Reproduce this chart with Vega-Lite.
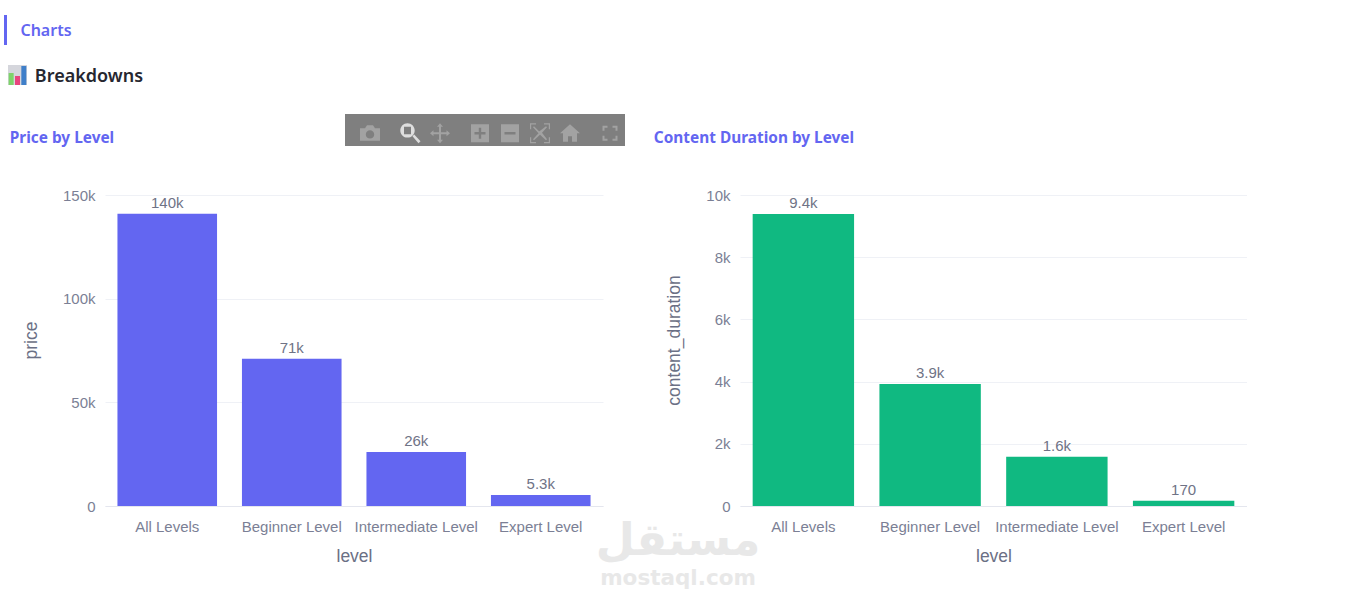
{
  "$schema": "https://vega.github.io/schema/vega-lite/v6.json",
  "background": "white",
  "padding": {"left": 4, "top": 15, "right": 0, "bottom": 0},
  "spacing": 28,
  "datasets": {
    "price": [
      {"level": "All Levels", "price": 141000},
      {"level": "Beginner Level", "price": 71000},
      {"level": "Intermediate Level", "price": 26000},
      {"level": "Expert Level", "price": 5300}
    ],
    "duration": [
      {"level": "All Levels", "content_duration": 9390},
      {"level": "Beginner Level", "content_duration": 3920},
      {"level": "Intermediate Level", "content_duration": 1580},
      {"level": "Expert Level", "content_duration": 170}
    ],
    "emoji": [
      {"part": "a", "height": 12, "colour": "green"},
      {"part": "b", "height": 9, "colour": "pink"},
      {"part": "c", "height": 19, "colour": "blue"}
    ],
    "toolbar": [
      {"icon": "camera"},
      {"icon": "zoom"},
      {"icon": "pan"},
      {"icon": "plus"},
      {"icon": "minus"},
      {"icon": "autoscale"},
      {"icon": "home"},
      {"icon": "fullscreen"}
    ],
    "watermark": [
      {"line": "ar", "label": "مستقل"},
      {"line": "en", "label": "mostaql.com"}
    ],
    "blank": [{"label": ""}]
  },
  "vconcat": [
    {
      "spacing": 20,
      "vconcat": [
        {
          "spacing": 13,
          "hconcat": [
            {
              "width": 3,
              "height": 30,
              "view": {"fill": "#6366f1", "stroke": null},
              "data": {"name": "blank"},
              "mark": "text",
              "encoding": {"text": {"field": "label"}}
            },
            {
              "width": 52,
              "height": 30,
              "view": {"stroke": null},
              "data": {"values": [{"label": "Charts"}]},
              "mark": {"type": "text", "font": "Noto Sans", "fontSize": 16, "fontWeight": 600, "color": "#6366f1", "dy": 1},
              "encoding": {"text": {"field": "label"}}
            }
          ]
        },
        {
          "spacing": 3,
          "hconcat": [
            {
              "width": 1,
              "height": 20,
              "view": {"stroke": null},
              "data": {"name": "blank"},
              "mark": "text",
              "encoding": {"text": {"field": "label"}}
            },
            {
              "width": 19,
              "height": 20,
              "view": {"fill": "#d5d6dc", "stroke": null},
              "data": {"name": "emoji"},
              "mark": {"type": "bar", "width": 5},
              "encoding": {
                "x": {"field": "part", "type": "nominal", "axis": null},
                "y": {"field": "height", "type": "quantitative", "axis": null, "scale": {"domain": [0, 20]}},
                "color": {
                  "field": "colour",
                  "type": "nominal",
                  "legend": null,
                  "scale": {"domain": ["green", "pink", "blue"], "range": ["#7ed36a", "#e8447e", "#3f7fc9"]}
                }
              }
            },
            {
              "width": 118,
              "height": 20,
              "view": {"stroke": null},
              "data": {"values": [{"label": "Breakdowns"}]},
              "mark": {"type": "text", "font": "Noto Sans", "fontSize": 18, "fontWeight": 600, "color": "#262730", "dy": 2},
              "encoding": {"text": {"field": "label"}}
            }
          ]
        }
      ]
    },
    {
      "spacing": 41,
      "vconcat": [
        {
          "spacing": 28,
          "hconcat": [
            {
              "spacing": 225,
              "hconcat": [
                {
                  "width": 116,
                  "height": 32,
                  "view": {"stroke": null},
                  "data": {"values": [{"label": "Price by Level"}]},
                  "mark": {"type": "text", "font": "Noto Sans", "fontSize": 15.4, "fontWeight": 700, "color": "#6366f1", "dy": 8},
                  "encoding": {"text": {"field": "label"}}
                },
                {
                  "width": 280,
                  "height": 32,
                  "view": {"fill": "#7f7f7f", "stroke": null},
                  "data": {"name": "toolbar"},
                  "mark": {"type": "point", "filled": true, "opacity": 1, "size": 400, "strokeWidth": 0},
                  "encoding": {
                    "x": {
                      "field": "icon",
                      "type": "nominal",
                      "axis": null,
                      "scale": {
                        "type": "point",
                        "padding": 0,
                        "range": [25, 265],
                        "domain": ["camera", "g1", "g2", "g3", "zoom", "g4", "g5", "pan", "g6", "g7", "g8", "plus", "g9", "g10", "minus", "g11", "g12", "autoscale", "g13", "g14", "home", "g15", "g16", "g17", "fullscreen"]
                      }
                    },
                    "y": {
                      "datum": "row",
                      "type": "nominal",
                      "axis": null,
                      "scale": {"type": "point", "padding": 0, "domain": ["a", "b", "c", "row", "d", "e"]}
                    },
                    "shape": {
                      "field": "icon",
                      "type": "nominal",
                      "legend": null,
                      "scale": {
                        "domain": ["camera", "zoom", "pan", "plus", "minus", "autoscale", "home", "fullscreen"],
                        "range": [
                          "M-1,-0.5 L-0.5,-0.5 L-0.3,-0.8 L0.3,-0.8 L0.5,-0.5 L1,-0.5 L1,0.75 L-1,0.75 Z M0,-0.3 A0.42,0.42 0 0 0 0,0.54 A0.42,0.42 0 0 0 0,-0.3 Z",
                          "M-0.25,-1 A0.72,0.72 0 1 1 -0.25,0.44 A0.72,0.72 0 1 1 -0.25,-1 Z M-0.6,-0.65 L-0.6,0.1 L0.1,0.1 L0.1,-0.65 Z M0.25,0.3 L0.42,0.12 L1.05,0.8 L0.85,1 Z",
                          "M0,-1 L0.3,-0.65 L0.1,-0.65 L0.1,-0.1 L0.65,-0.1 L0.65,-0.3 L1,0 L0.65,0.3 L0.65,0.1 L0.1,0.1 L0.1,0.65 L0.3,0.65 L0,1 L-0.3,0.65 L-0.1,0.65 L-0.1,0.1 L-0.65,0.1 L-0.65,0.3 L-1,0 L-0.65,-0.3 L-0.65,-0.1 L-0.1,-0.1 L-0.1,-0.65 L-0.3,-0.65 Z",
                          "M-0.9,-0.9 L0.9,-0.9 L0.9,0.9 L-0.9,0.9 Z M-0.12,-0.55 L-0.12,-0.12 L-0.55,-0.12 L-0.55,0.12 L-0.12,0.12 L-0.12,0.55 L0.12,0.55 L0.12,0.12 L0.55,0.12 L0.55,-0.12 L0.12,-0.12 L0.12,-0.55 Z",
                          "M-0.9,-0.9 L0.9,-0.9 L0.9,0.9 L-0.9,0.9 Z M-0.55,-0.12 L-0.55,0.12 L0.55,0.12 L0.55,-0.12 Z",
                          "M-1,-1 L-0.4,-1 L-0.4,-0.88 L-0.88,-0.88 L-0.88,-0.4 L-1,-0.4 Z M0.4,-1 L1,-1 L1,-0.4 L0.88,-0.4 L0.88,-0.88 L0.4,-0.88 Z M1,0.4 L1,1 L0.4,1 L0.4,0.88 L0.88,0.88 L0.88,0.4 Z M-0.4,1 L-1,1 L-1,0.4 L-0.88,0.4 L-0.88,0.88 L-0.4,0.88 Z M-0.6,-0.7 L-0.1,-0.2 L-0.05,-0.2 L0.6,-0.7 L0.7,-0.6 L0.2,-0.05 L0.7,0.6 L0.6,0.7 L0,0.15 L-0.6,0.7 L-0.7,0.6 L-0.15,0 L-0.7,-0.6 Z",
                          "M0,-0.9 L1,0 L0.7,0 L0.7,0.85 L0.2,0.85 L0.2,0.3 L-0.2,0.3 L-0.2,0.85 L-0.7,0.85 L-0.7,0 L-1,0 Z",
                          "M-0.75,-0.75 L-0.25,-0.75 L-0.25,-0.55 L-0.55,-0.55 L-0.55,-0.25 L-0.75,-0.25 Z M0.25,-0.75 L0.75,-0.75 L0.75,-0.25 L0.55,-0.25 L0.55,-0.55 L0.25,-0.55 Z M0.75,0.25 L0.75,0.75 L0.25,0.75 L0.25,0.55 L0.55,0.55 L0.55,0.25 Z M-0.25,0.75 L-0.75,0.75 L-0.75,0.25 L-0.55,0.25 L-0.55,0.55 L-0.25,0.55 Z"
                        ]
                      }
                    },
                    "color": {
                      "condition": {"test": "datum.icon == 'zoom'", "value": "#dedede"},
                      "value": "#a2a2a2"
                    }
                  }
                }
              ]
            },
            {
              "width": 200,
              "height": 32,
              "view": {"stroke": null},
              "data": {"values": [{"label": "Content Duration by Level"}]},
              "mark": {"type": "text", "font": "Noto Sans", "fontSize": 15.4, "fontWeight": 700, "color": "#6366f1", "dy": 8},
              "encoding": {"text": {"field": "label"}}
            }
          ]
        },
        {
          "bounds": "flush",
          "spacing": 331,
          "vconcat": [
            {
              "spacing": 61,
              "hconcat": [
                {
                  "spacing": 17,
                  "hconcat": [
                    {
                      "width": 1,
                      "height": 311,
                      "view": {"stroke": null},
                      "data": {"name": "blank"},
                      "mark": "text",
                      "encoding": {"text": {"field": "label"}}
                    },
                    {
                      "width": 498,
                      "height": 311,
                      "view": {"stroke": null},
                      "data": {"name": "price"},
                      "encoding": {
                        "x": {
                          "field": "level",
                          "type": "nominal",
                          "sort": null,
                          "scale": {"paddingInner": 0.2, "paddingOuter": 0.1},
                          "axis": {
                            "title": "level",
                            "labelAngle": 0,
                            "labelLimit": 200,
                            "labelOverlap": false,
                            "labelPadding": 13,
                            "labelFont": "Liberation Sans",
                            "labelFontSize": 15,
                            "labelColor": "#7b7f95",
                            "ticks": false,
                            "domainColor": "#e4e6ee",
                            "titleFont": "Liberation Sans",
                            "titleFontSize": 17.5,
                            "titleFontWeight": "normal",
                            "titleColor": "#6b7085",
                            "titlePadding": 13
                          }
                        }
                      },
                      "layer": [
                        {
                          "mark": {"type": "bar", "color": "#6366f1"},
                          "encoding": {
                            "y": {
                              "field": "price",
                              "type": "quantitative",
                              "scale": {"domain": [0, 150000], "nice": false},
                              "axis": {
                                "title": "price",
                                "values": [0, 50000, 100000, 150000],
                                "labelExpr": "datum.value == 0 ? '0' : format(datum.value, '~s')",
                                "ticks": false,
                                "domain": false,
                                "labelPadding": 10,
                                "labelFont": "Liberation Sans",
                                "labelFontSize": 15,
                                "labelColor": "#7b7f95",
                                "gridColor": "#eff1f6",
                                "titleFont": "Liberation Sans",
                                "titleFontSize": 17.5,
                                "titleFontWeight": "normal",
                                "titleColor": "#6b7085",
                                "titleX": -65,
                                "titleY": 145
                              }
                            }
                          }
                        },
                        {
                          "mark": {"type": "text", "baseline": "bottom", "dy": -3, "font": "Liberation Sans", "fontSize": 15, "color": "#6f7386"},
                          "encoding": {
                            "y": {"field": "price", "type": "quantitative"},
                            "text": {"field": "price", "type": "quantitative", "format": ".2~s"}
                          }
                        }
                      ]
                    }
                  ]
                },
                {
                  "width": 507,
                  "height": 311,
                  "view": {"stroke": null},
                  "data": {"name": "duration"},
                  "encoding": {
                    "x": {
                      "field": "level",
                      "type": "nominal",
                      "sort": null,
                      "scale": {"paddingInner": 0.2, "paddingOuter": 0.1},
                      "axis": {
                        "title": "level",
                        "labelAngle": 0,
                        "labelLimit": 200,
                        "labelOverlap": false,
                        "labelPadding": 13,
                        "labelFont": "Liberation Sans",
                        "labelFontSize": 15,
                        "labelColor": "#7b7f95",
                        "ticks": false,
                        "domainColor": "#e4e6ee",
                        "titleFont": "Liberation Sans",
                        "titleFontSize": 17.5,
                        "titleFontWeight": "normal",
                        "titleColor": "#6b7085",
                        "titlePadding": 13
                      }
                    }
                  },
                  "layer": [
                    {
                      "mark": {"type": "bar", "color": "#10b981"},
                      "encoding": {
                        "y": {
                          "field": "content_duration",
                          "type": "quantitative",
                          "scale": {"domain": [0, 10000], "nice": false},
                          "axis": {
                            "title": "content_duration",
                            "values": [0, 2000, 4000, 6000, 8000, 10000],
                            "labelExpr": "datum.value == 0 ? '0' : format(datum.value, '~s')",
                            "ticks": false,
                            "domain": false,
                            "labelPadding": 10,
                            "labelFont": "Liberation Sans",
                            "labelFontSize": 15,
                            "labelColor": "#7b7f95",
                            "gridColor": "#eff1f6",
                            "titleFont": "Liberation Sans",
                            "titleFontSize": 17.5,
                            "titleFontWeight": "normal",
                            "titleColor": "#6b7085",
                            "titleX": -57,
                            "titleY": 145
                          }
                        }
                      }
                    },
                    {
                      "mark": {"type": "text", "baseline": "bottom", "dy": -3, "font": "Liberation Sans", "fontSize": 15, "color": "#6f7386"},
                      "encoding": {
                        "y": {"field": "content_duration", "type": "quantitative"},
                        "text": {"field": "content_duration", "type": "quantitative", "format": ".2~s"}
                      }
                    }
                  ]
                }
              ]
            },
            {
              "spacing": 590,
              "hconcat": [
                {
                  "width": 1,
                  "height": 70,
                  "view": {"stroke": null},
                  "data": {"name": "blank"},
                  "mark": "text",
                  "encoding": {"text": {"field": "label"}}
                },
                {
                  "width": 160,
                  "height": 70,
                  "view": {"stroke": null},
                  "data": {"name": "watermark"},
                  "encoding": {
                    "y": {"field": "line", "type": "nominal", "sort": null, "axis": null},
                    "text": {"field": "label"}
                  },
                  "layer": [
                    {
                      "transform": [{"filter": "datum.line == 'ar'"}],
                      "mark": {"type": "text", "font": "DejaVu Sans", "fontWeight": "bold", "fontSize": 45, "dy": -3, "color": "#e8e8e8"}
                    },
                    {
                      "transform": [{"filter": "datum.line == 'en'"}],
                      "mark": {"type": "text", "font": "DejaVu Sans", "fontWeight": "bold", "fontSize": 21.5, "color": "#e8e8e8"}
                    }
                  ]
                }
              ]
            }
          ]
        }
      ]
    }
  ]
}
